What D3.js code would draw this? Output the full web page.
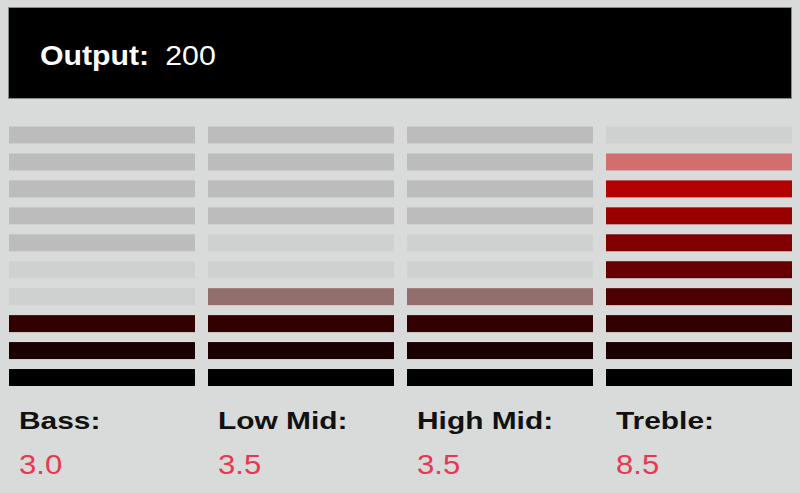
<!DOCTYPE html>
<html>
<head>
<meta charset="utf-8">
<script src="https://cdn.jsdelivr.net/npm/d3@7/dist/d3.min.js"></script>
<style>
  body { margin: 0; background: #d8dbda; }
  svg { display: block; font-family: Arial, "Liberation Sans", sans-serif; }
</style>
</head>
<body>
<script>
(function (){

    //data
    var bands = ["Bass", "Low Mid", "High Mid", "Treble"];
    var levels = [3.0, 3.5, 3.5, 8.5];
    var outputValue = 200;
    var segmentCount = 10;

    var width = 800, height = 493;

    var svg = d3.select("body")
        .append("svg")
        .attr("width", width)
        .attr("height", height);

    //background
    svg.append("rect")
        .attr("width", width)
        .attr("height", height)
        .attr("fill", "#d8dbda");

    //output header
    svg.append("rect")
        .attr("x", 8.5)
        .attr("y", 7.5)
        .attr("width", 783)
        .attr("height", 91)
        .attr("fill", "#000")
        .attr("stroke", "#8a8c8c")
        .attr("stroke-width", 1);

    var header = svg.append("text")
        .attr("transform", "translate(40,65) scale(1.08,1)")
        .attr("fill", "#fff")
        .style("font-size", "28px");
    header.append("tspan")
        .style("font-weight", "bold")
        .text("Output:");
    header.append("tspan")
        .attr("dx", 15)
        .text(outputValue);

    //column scale
    var x = d3.scaleBand()
        .domain(bands)
        .range([9, 792])
        .paddingInner(13 / 199)
        .paddingOuter(0);

    //segment rows, 0 = bottom
    var y = d3.scaleBand()
        .domain(d3.range(segmentCount))
        .range([386, 126.5])
        .paddingInner(0.37);

    var colorRamp = d3.scaleLinear()
        .domain([0, segmentCount - 1])
        .range(["#000000", "#e60000"]);

    var bg = d3.color("#d8dbda");

    function segColor(level, i){
        if (i < Math.floor(level)) return colorRamp(i);
        if (i < level) return d3.interpolateRgb(bg, colorRamp(i))(0.5);
        //fading trail just above the level
        if (i < Math.ceil(level) + 2) return "#cfd0d0";
        return "#bcbcbc";
    }

    var cols = svg.selectAll(".band")
        .data(bands)
        .enter()
        .append("g")
        .attr("class", "band")
        .attr("transform", function(d){ return "translate(" + x(d) + ",0)"; });

    cols.selectAll(".seg")
        .data(function(d, j){
            return d3.range(segmentCount).map(function(i){ return {i: i, level: levels[j]}; });
        })
        .enter()
        .append("rect")
        .attr("class", "seg")
        .attr("x", 0)
        .attr("y", function(d){ return y(d.i); })
        .attr("width", x.bandwidth())
        .attr("height", y.bandwidth())
        .attr("fill", function(d){ return segColor(d.level, d.i); });

    //labels
    cols.append("text")
        .attr("transform", "translate(10,429) scale(1.3,1)")
        .attr("fill", "#111")
        .style("font-size", "23px")
        .style("font-weight", "bold")
        .text(function(d){ return d + ":"; });

    cols.append("text")
        .attr("transform", "translate(10,474) scale(1.15,1)")
        .attr("fill", "#e8384f")
        .style("font-size", "27px")
        .text(function(d, j){ return levels[j].toFixed(1); });

})();
</script>
</body>
</html>
